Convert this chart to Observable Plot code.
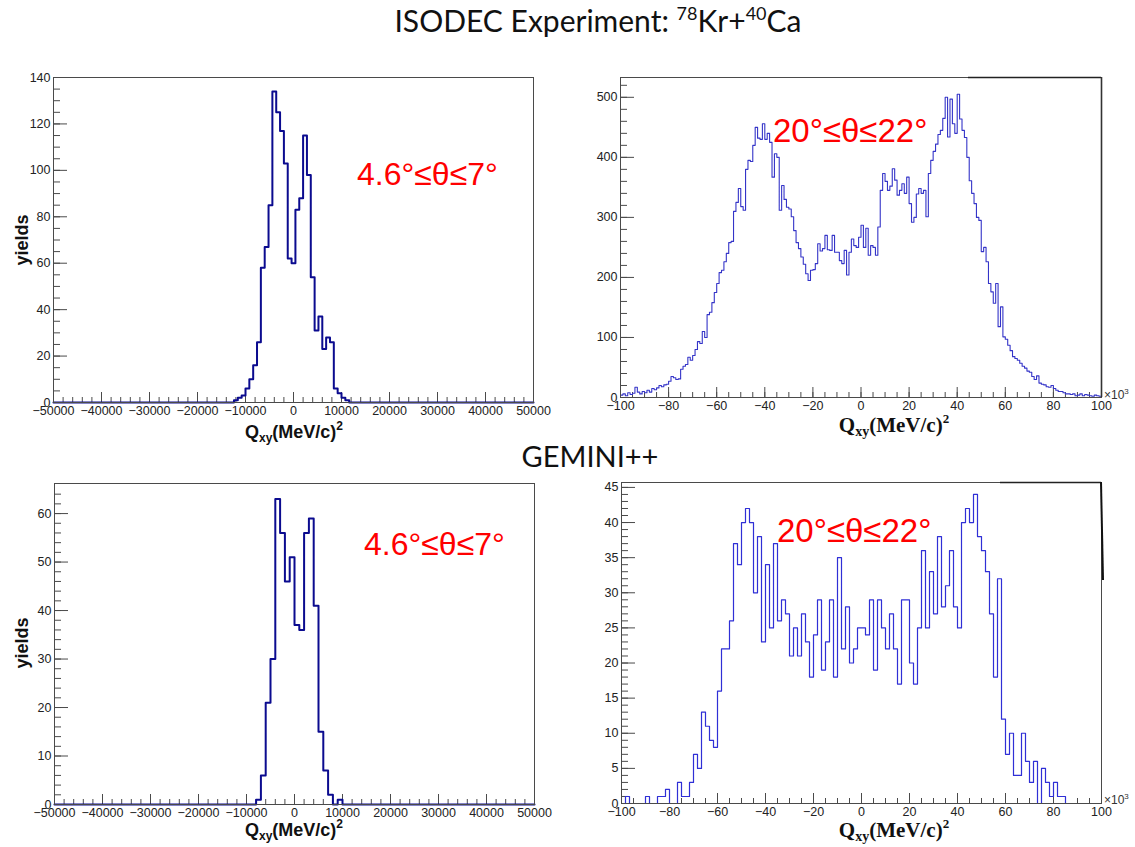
<!DOCTYPE html>
<html>
<head>
<meta charset="utf-8">
<script src="https://cdn.jsdelivr.net/npm/d3@7"></script>
<script src="https://cdn.jsdelivr.net/npm/@observablehq/plot@0.6"></script>
<style>
  html, body { margin: 0; padding: 0; background: #fff; }
  #wrap { position: relative; width: 1135px; height: 847px; overflow: hidden; background: #fff; }
  .panel { position: absolute; }
  #overlay { position: absolute; left: 0; top: 0; pointer-events: none; }
</style>
</head>
<body>
<div id="wrap">
  <div class="panel" id="tl" style="left:0px;top:60px"></div>
  <div class="panel" id="tr" style="left:570px;top:60px"></div>
  <div class="panel" id="bl" style="left:0px;top:466px"></div>
  <div class="panel" id="br" style="left:570px;top:465px"></div>
  <svg id="overlay" width="1135" height="847" xmlns="http://www.w3.org/2000/svg">
    <text x="598" y="32" text-anchor="middle" font-family="Lato" font-size="30" fill="#111">ISODEC Experiment: <tspan font-size="18" dy="-12">78</tspan><tspan dy="12">Kr+</tspan><tspan font-size="18" dy="-12">40</tspan><tspan dy="12">Ca</tspan></text>
    <text x="590" y="467" text-anchor="middle" font-family="Lato" font-size="29" fill="#111">GEMINI++</text>

    <text x="357" y="185" font-family="Liberation Sans" font-size="32" fill="#ff0000">4.6°≤θ≤7°</text>
    <text x="773" y="142" font-family="Liberation Sans" font-size="33" fill="#ff0000">20°≤θ≤22°</text>
    <text x="364" y="555" font-family="Liberation Sans" font-size="32" fill="#ff0000">4.6°≤θ≤7°</text>
    <text x="777" y="542" font-family="Liberation Sans" font-size="33" fill="#ff0000">20°≤θ≤22°</text>

    <text transform="translate(28,240) rotate(-90)" text-anchor="middle" font-family="Liberation Sans" font-weight="bold" font-size="18" fill="#111">yields</text>
    <text transform="translate(28,643) rotate(-90)" text-anchor="middle" font-family="Liberation Sans" font-weight="bold" font-size="18" fill="#111">yields</text>

    <text x="294" y="438" text-anchor="middle" font-family="Liberation Sans" font-weight="bold" font-size="18" fill="#111">Q<tspan font-size="12" dy="4">xy</tspan><tspan dy="-4">(MeV/c)</tspan><tspan font-size="12" dy="-8">2</tspan></text>
    <text x="294" y="836" text-anchor="middle" font-family="Liberation Sans" font-weight="bold" font-size="18" fill="#111">Q<tspan font-size="12" dy="4">xy</tspan><tspan dy="-4">(MeV/c)</tspan><tspan font-size="12" dy="-8">2</tspan></text>

    <text x="894" y="432" text-anchor="middle" font-family="Liberation Serif" font-weight="bold" font-size="21" fill="#111">Q<tspan font-size="14" dy="4">xy</tspan><tspan dy="-4">(MeV/c)</tspan><tspan font-size="13" dy="-9">2</tspan></text>
    <text x="894" y="837" text-anchor="middle" font-family="Liberation Serif" font-weight="bold" font-size="21" fill="#111">Q<tspan font-size="14" dy="4">xy</tspan><tspan dy="-4">(MeV/c)</tspan><tspan font-size="13" dy="-9">2</tspan></text>

    <text x="1104" y="399" font-family="Liberation Sans" font-size="12" fill="#333">×10<tspan font-size="8" dy="-5">3</tspan></text>
    <text x="1104" y="804" font-family="Liberation Sans" font-size="12" fill="#333">×10<tspan font-size="8" dy="-5">3</tspan></text>

    <!-- darker border remnants visible in the reference screenshot -->
    <line x1="968" y1="77.5" x2="1101" y2="77.5" stroke="#222" stroke-width="1.6"/>
    <line x1="1101.5" y1="77" x2="1101.5" y2="397" stroke="#333" stroke-width="1.6"/>
    <line x1="1000" y1="482.5" x2="1101" y2="482.5" stroke="#222" stroke-width="1.6"/>
    <line x1="1101" y1="482" x2="1103" y2="580" stroke="#111" stroke-width="2"/>
  </svg>
</div>
<script>
// ---------------- DATA ----------------
// Top-left: ISODEC, 4.6°≤θ≤7°, Qxy in (MeV/c)^2, bins of 800 starting at -12400
const tlBinStart = -12400;
const tlBinWidth = 800;
const tlCounts = [1, 2, 3, 6, 10, 16, 26, 58, 67, 85, 134, 125, 117, 103, 62, 60, 83, 88, 115, 98, 54, 31, 37, 23, 28, 26, 6, 4, 2, 1];

// Top-right: ISODEC, 20°≤θ≤22°, Qxy in 10^3 (MeV/c)^2, bins of 1 starting at -100
const trBinStart = -100;
const trBinWidth = 1;
const trCounts = [
  4, 6, 3, 8, 5, 7, 17, 9, 6, 10,
  8, 12, 9, 15, 13, 16, 20, 18, 21, 22,
  27, 35, 33, 30, 31, 47, 52, 55, 67, 62,
  70, 80, 93, 90, 110, 100, 138, 142, 158, 175,
  190, 208, 212, 226, 240, 258, 260, 310, 325, 348,
  318, 312, 380, 395, 393, 420, 450, 432, 430, 456,
  430, 440, 425, 367, 406, 400, 312, 353, 330, 317,
  314, 301, 278, 258, 248, 234, 222, 206, 195, 212,
  213, 223, 256, 244, 248, 270, 246, 245, 270, 242,
  242, 228, 223, 245, 204, 242, 264, 253, 250, 267,
  287, 250, 282, 237, 253, 250, 237, 284, 345, 373,
  360, 345, 352, 381, 362, 337, 345, 356, 340, 367,
  323, 292, 300, 339, 348, 340, 345, 301, 373, 395,
  410, 422, 438, 445, 465, 500, 434, 497, 456, 440,
  505, 464, 445, 433, 400, 361, 340, 323, 300, 295,
  243, 250, 226, 190, 176, 157, 190, 118, 151, 101,
  97, 87, 78, 68, 65, 62, 57, 52, 49, 44,
  42, 35, 30, 36, 24, 22, 21, 18, 17, 20,
  15, 12, 10, 10, 8, 6, 6, 5, 6, 3,
  4, 6, 3, 5, 4, 3, 2, 4, 3, 2
];

// Bottom-left: GEMINI++, 4.6°≤θ≤7°, bins of 1000 starting at -8000
const blBinStart = -8000;
const blBinWidth = 1000;
const blCounts = [1, 6, 21, 30, 63, 56, 46, 51, 37, 36, 56, 59, 41, 15, 7, 2, 0, 1];

// Bottom-right: GEMINI++, 20°≤θ≤22°, 120 bins from -100 to 100 (x10^3)
const brBinStart = -100;
const brBinWidth = 200 / 120;
const brCounts = [
  0, 1, 0, 0, 0, 0, 1, 0, 0, 1,
  1, 2, 0, 0, 3, 1, 1, 3, 7, 5,
  13, 11, 9, 8, 16, 22, 22, 26, 37, 34,
  40, 42, 40, 30, 38, 23, 34, 25, 37, 26,
  29, 27, 21, 25, 21, 27, 23, 18, 24, 29,
  19, 23, 29, 18, 35, 22, 28, 20, 22, 25,
  25, 24, 29, 19, 29, 25, 22, 27, 22, 17,
  29, 29, 20, 17, 25, 36, 25, 33, 27, 38,
  28, 31, 36, 28, 25, 40, 42, 40, 44, 38,
  36, 33, 27, 18, 32, 12, 7, 10, 4, 4,
  10, 6, 3, 6, 0, 5, 3, 1, 3, 1,
  1, 0, 0, 0, 0, 0, 0, 0, 0, 0
];

// Axis tick values
const leftXTicks = [-50000, -40000, -30000, -20000, -10000, 0, 10000, 20000, 30000, 40000, 50000];
const rightXTicks = [-100, -80, -60, -40, -20, 0, 20, 40, 60, 80, 100];
const tlYTicks = [0, 20, 40, 60, 80, 100, 120, 140];
const trYTicks = [0, 100, 200, 300, 400, 500];
const blYTicks = [0, 10, 20, 30, 40, 50, 60];
const brYTicks = [0, 5, 10, 15, 20, 25, 30, 35, 40, 45];

// ---------------- DRAWING ----------------
function histPoints(xmin, xmax, start, width, counts) {
  const pts = [];
  if (start > xmin) pts.push({x: xmin, y: 0});
  counts.forEach((c, i) => pts.push({x: start + i * width, y: c}));
  const end = start + counts.length * width;
  if (end < xmax - 1e-9) { pts.push({x: end, y: 0}); pts.push({x: xmax, y: 0}); }
  else pts.push({x: xmax, y: counts[counts.length - 1]});
  return pts;
}

const fmt = d3.format("d");

function panel(o) {
  const iw = o.w - o.ml - o.mr, ih = o.h - o.mt - o.mb;
  const pts = histPoints(o.xDomain[0], o.xDomain[1], o.start, o.width, o.counts);
  const frameColor = "#4a4a4a";
  return Plot.plot({
    width: o.w, height: o.h,
    marginLeft: o.ml, marginRight: o.mr, marginTop: o.mt, marginBottom: o.mb,
    x: {domain: o.xDomain},
    y: {domain: o.yDomain},
    style: {fontFamily: "Liberation Sans, Arial, sans-serif", fontSize: "12.5px", color: "#222", background: "transparent", overflow: "visible"},
    marks: [
      Plot.tickY(o.yMinor, {y: d => d, insetRight: iw - 7, stroke: frameColor}),
      Plot.tickY(o.yTicks, {y: d => d, insetRight: iw - 14, stroke: frameColor}),
      Plot.tickX(o.xMinor, {x: d => d, insetTop: ih - 5, stroke: frameColor}),
      Plot.tickX(o.xTicks, {x: d => d, insetTop: ih - 10, stroke: frameColor}),
      Plot.line(pts, {x: "x", y: "y", curve: "step-after", stroke: o.stroke, strokeWidth: o.sw}),
      Plot.axisX(o.xTicks, {tickSize: 0, tickPadding: 4, tickFormat: fmt, label: null}),
      Plot.axisY(o.yTicks, {tickSize: 0, tickPadding: 3, tickFormat: fmt, label: null}),
      Plot.frame({stroke: frameColor})
    ]
  });
}

const leftXMinor = d3.range(-50000, 50001, 2000);
const rightXMinor = d3.range(-100, 101, 5);

document.getElementById("tl").append(panel({
  w: 560, h: 390, ml: 53, mr: 27, mt: 17, mb: 48,
  xDomain: [-50000, 50000], yDomain: [0, 140],
  start: tlBinStart, width: tlBinWidth, counts: tlCounts,
  xTicks: leftXTicks, xMinor: leftXMinor, yTicks: tlYTicks, yMinor: d3.range(0, 141, 5),
  stroke: "#0b0b8f", sw: 2
}));

document.getElementById("tr").append(panel({
  w: 565, h: 390, ml: 50, mr: 34, mt: 17, mb: 53,
  xDomain: [-100, 100], yDomain: [0, 533],
  start: trBinStart, width: trBinWidth, counts: trCounts,
  xTicks: rightXTicks, xMinor: rightXMinor, yTicks: trYTicks, yMinor: d3.range(0, 521, 20),
  stroke: "#3434c8", sw: 1.1
}));

document.getElementById("bl").append(panel({
  w: 560, h: 381, ml: 54, mr: 26, mt: 17, mb: 43,
  xDomain: [-50000, 50000], yDomain: [0, 66.2],
  start: blBinStart, width: blBinWidth, counts: blCounts,
  xTicks: leftXTicks, xMinor: leftXMinor, yTicks: blYTicks, yMinor: d3.range(0, 66, 2),
  stroke: "#0b0b8f", sw: 2
}));

document.getElementById("br").append(panel({
  w: 565, h: 382, ml: 51, mr: 34, mt: 17, mb: 44,
  xDomain: [-100, 100], yDomain: [0, 45.7],
  start: brBinStart, width: brBinWidth, counts: brCounts,
  xTicks: rightXTicks, xMinor: rightXMinor, yTicks: brYTicks, yMinor: d3.range(0, 46, 1),
  stroke: "#2f2fd6", sw: 1.2
}));
</script>
</body>
</html>
